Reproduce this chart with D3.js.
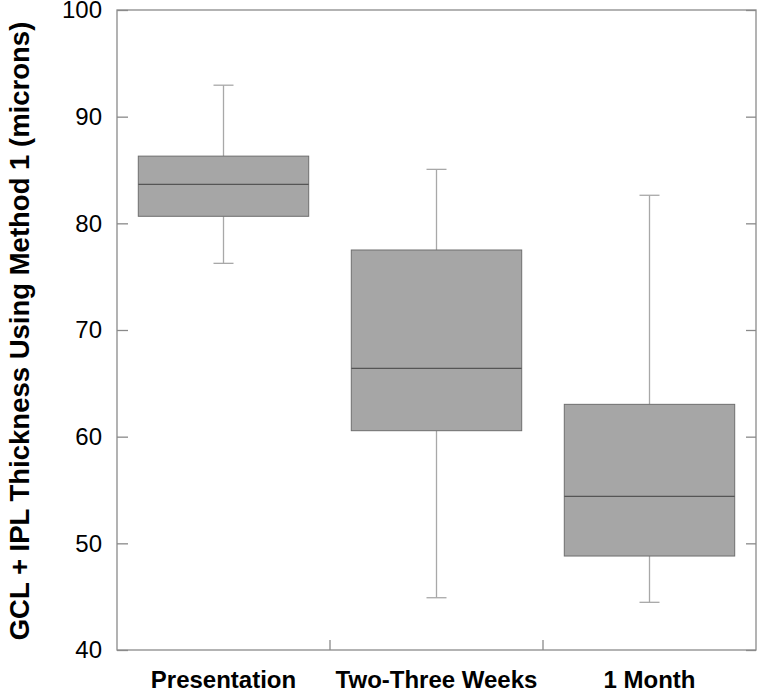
<!DOCTYPE html>
<html>
<head>
<meta charset="utf-8">
<script src="https://cdn.jsdelivr.net/npm/d3@7"></script>
<style>
html,body{margin:0;padding:0;background:#fff;}
svg{display:block;}
</style>
</head>
<body>
<script>
const categories = ["Presentation", "Two-Three Weeks", "1 Month"];
const whiskerLow = [76.25, 44.9, 44.47];
const q1 = [80.66, 60.56, 48.81];
const median = [83.66, 66.4, 54.41];
const q3 = [86.3, 77.5, 63.03];
const whiskerHigh = [92.95, 85.06, 82.63];
const yTicks = [40, 50, 60, 70, 80, 90, 100];
const yLabel = "GCL + IPL Thickness Using Method 1 (microns)";

const W = 757, H = 688;
const m = {left: 117, right: 1, top: 10, bottom: 38};
const svg = d3.select("body").append("svg").attr("width", W).attr("height", H);
const x = d3.scaleBand().domain(categories).range([m.left, W - m.right]).paddingInner(0).paddingOuter(0);
const y = d3.scaleLinear().domain([40, 100]).range([H - m.bottom, m.top]);
const font = "'Liberation Sans', Arial, sans-serif";

const data = categories.map((c, i) => ({c, lo: whiskerLow[i], q1: q1[i], med: median[i], q3: q3[i], hi: whiskerHigh[i]}));
const bw = x.bandwidth() * 0.8;
const capW = 20;

const g = svg.append("g");
data.forEach(d => {
  const cx = x(d.c) + x.bandwidth() / 2;
  const wl = (x1, x2, y1, y2) => g.append("line").attr("x1", x1).attr("x2", x2).attr("y1", y1).attr("y2", y2)
    .attr("stroke", "#a8a8a8").attr("stroke-width", 1.3);
  wl(cx, cx, y(d.hi), y(d.q3));
  wl(cx, cx, y(d.q1), y(d.lo));
  wl(cx - capW / 2, cx + capW / 2, y(d.hi), y(d.hi));
  wl(cx - capW / 2, cx + capW / 2, y(d.lo), y(d.lo));
  g.append("rect").attr("x", cx - bw / 2).attr("y", y(d.q3)).attr("width", bw).attr("height", y(d.q1) - y(d.q3))
    .attr("fill", "#a6a6a6").attr("stroke", "#6e6e6e").attr("stroke-width", 1);
  g.append("line").attr("x1", cx - bw / 2).attr("x2", cx + bw / 2).attr("y1", y(d.med)).attr("y2", y(d.med))
    .attr("stroke", "#555").attr("stroke-width", 1.2);
});

// frame
svg.append("rect").attr("x", m.left).attr("y", m.top).attr("width", W - m.right - m.left).attr("height", H - m.bottom - m.top)
  .attr("fill", "none").attr("stroke", "#8a8a8a").attr("stroke-width", 1.3);

// left axis (ticks inward)
const yAxisL = d3.axisLeft(y).tickValues(yTicks).tickSize(-11).tickPadding(15).tickFormat(d3.format("d"));
const gl = svg.append("g").attr("transform", `translate(${m.left},0)`).call(yAxisL);
gl.select(".domain").remove();
gl.selectAll(".tick line").attr("stroke", "#8a8a8a").attr("stroke-width", 1.3);
gl.selectAll(".tick text").attr("font-family", font).attr("font-size", 24).attr("fill", "#000");

// right axis (ticks inward, no labels)
const yAxisR = d3.axisRight(y).tickValues(yTicks).tickSize(-10).tickFormat("");
const gr = svg.append("g").attr("transform", `translate(${W - m.right},0)`).call(yAxisR);
gr.select(".domain").remove();
gr.selectAll(".tick line").attr("stroke", "#8a8a8a").attr("stroke-width", 1.3);

// bottom axis: category labels, ticks at band boundaries inward
const xAxis = d3.axisBottom(x).tickSize(0).tickPadding(0);
const gb = svg.append("g").attr("transform", `translate(0,${H - m.bottom})`).call(xAxis);
gb.select(".domain").remove();
gb.selectAll(".tick text").attr("dy", null).attr("y", 38)
  .attr("font-family", font).attr("font-size", 24).attr("font-weight", "bold").attr("fill", "#000");
categories.slice(1).forEach(c => {
  svg.append("line").attr("x1", x(c)).attr("x2", x(c)).attr("y1", H - m.bottom).attr("y2", H - m.bottom - 10)
    .attr("stroke", "#8a8a8a").attr("stroke-width", 1.3);
});

// y label
svg.append("text")
  .attr("transform", `translate(29,${(m.top + H - m.bottom) / 2 + 1}) rotate(-90)`)
  .attr("text-anchor", "middle")
  .attr("font-family", font).attr("font-size", 27.5).attr("font-weight", "bold").attr("fill", "#000")
  .text(yLabel);
</script>
</body>
</html>
